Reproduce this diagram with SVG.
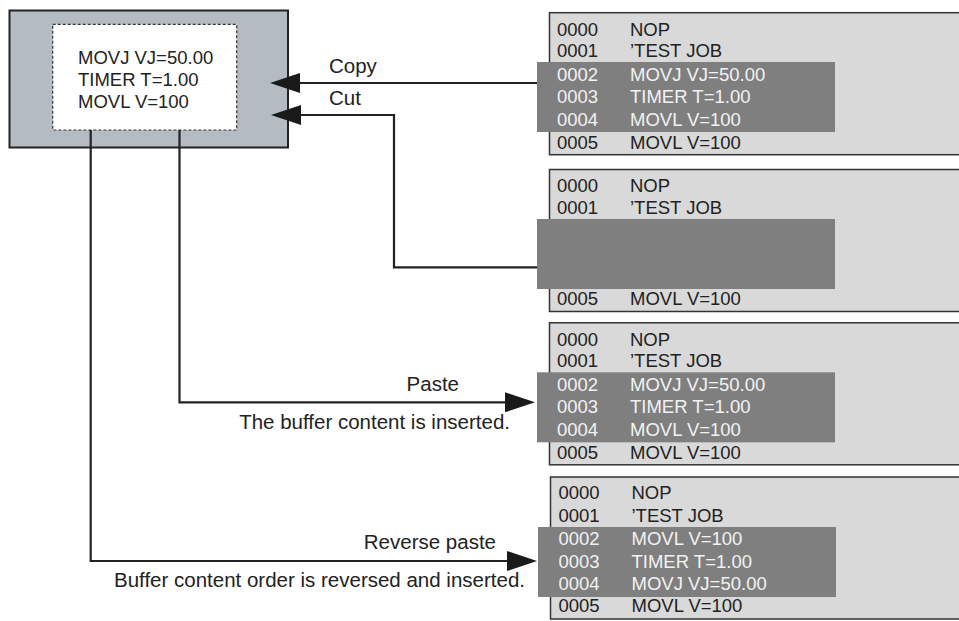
<svg xmlns="http://www.w3.org/2000/svg" width="959" height="621" viewBox="0 0 959 621">
<style>
text{font-family:"Liberation Sans",Arial,sans-serif;}
.buf{font-size:18.5px;fill:#222;}
.row{font-size:18.5px;fill:#222;}
.hl .row{fill:#f2f2f2;}
.lbl{font-size:20.5px;fill:#222;}
.panel{fill:#d9d9d9;stroke:#333;stroke-width:1.5;}
.hlr{fill:#7f7f7f;}
.con{fill:none;stroke:#222;stroke-width:2.2;}
</style>
<defs>
<marker id="ah" markerUnits="userSpaceOnUse" markerWidth="30" markerHeight="20" refX="2" refY="10" orient="auto">
<path d="M0,0 L30,10 L0,20 Z" fill="#1a1a1a"/>
</marker>
</defs>
<rect width="959" height="621" fill="#fff"/>

<g id="buffer">
<rect x="9.5" y="10.5" width="278.5" height="137" fill="#b4bbc3" stroke="#222" stroke-width="2"/>
<rect x="52.7" y="24.3" width="184" height="105.7" fill="#fff" stroke="#333" stroke-width="1.2" stroke-dasharray="3,2"/>
<text class="buf" x="78" y="63.5">MOVJ VJ=50.00</text>
<text class="buf" x="78" y="85.5">TIMER T=1.00</text>
<text class="buf" x="78" y="107.5">MOVL V=100</text>
</g>

<g id="panel-copy">
<rect class="panel" x="549.5" y="12.7" width="420" height="142"/>
<text class="row" x="557" y="35.5">0000</text><text class="row" x="630" y="35.5">NOP</text>
<text class="row" x="557" y="57">0001</text><text class="row" x="630" y="57">’TEST JOB</text>
<g class="hl">
<rect class="hlr" x="537" y="62" width="298" height="70"/>
<text class="row" x="557" y="80.5">0002</text><text class="row" x="630" y="80.5">MOVJ VJ=50.00</text>
<text class="row" x="557" y="103.3">0003</text><text class="row" x="630" y="103.3">TIMER T=1.00</text>
<text class="row" x="557" y="126.3">0004</text><text class="row" x="630" y="126.3">MOVL V=100</text>
</g>
<text class="row" x="557" y="148.5">0005</text><text class="row" x="630" y="148.5">MOVL V=100</text>
</g>

<g id="panel-cut">
<rect class="panel" x="549.5" y="169.5" width="420" height="142"/>
<text class="row" x="557" y="192.3">0000</text><text class="row" x="630" y="192.3">NOP</text>
<text class="row" x="557" y="213.8">0001</text><text class="row" x="630" y="213.8">’TEST JOB</text>
<rect class="hlr" x="537" y="219" width="298" height="70"/>
<text class="row" x="557" y="305.3">0005</text><text class="row" x="630" y="305.3">MOVL V=100</text>
</g>

<g id="panel-paste">
<rect class="panel" x="549.5" y="322.8" width="420" height="142"/>
<text class="row" x="557" y="345.6">0000</text><text class="row" x="630" y="345.6">NOP</text>
<text class="row" x="557" y="367.1">0001</text><text class="row" x="630" y="367.1">’TEST JOB</text>
<g class="hl">
<rect class="hlr" x="537" y="372.3" width="298" height="70"/>
<text class="row" x="557" y="390.6">0002</text><text class="row" x="630" y="390.6">MOVJ VJ=50.00</text>
<text class="row" x="557" y="413.4">0003</text><text class="row" x="630" y="413.4">TIMER T=1.00</text>
<text class="row" x="557" y="436.4">0004</text><text class="row" x="630" y="436.4">MOVL V=100</text>
</g>
<text class="row" x="557" y="458.6">0005</text><text class="row" x="630" y="458.6">MOVL V=100</text>
</g>

<g id="panel-reverse">
<rect class="panel" x="550.5" y="477" width="420" height="142"/>
<text class="row" x="558.5" y="499.3">0000</text><text class="row" x="631.5" y="499.3">NOP</text>
<text class="row" x="558.5" y="521.7">0001</text><text class="row" x="631.5" y="521.7">’TEST JOB</text>
<g class="hl">
<rect class="hlr" x="538" y="527" width="298" height="70"/>
<text class="row" x="558.5" y="545">0002</text><text class="row" x="631.5" y="545">MOVL V=100</text>
<text class="row" x="558.5" y="567.7">0003</text><text class="row" x="631.5" y="567.7">TIMER T=1.00</text>
<text class="row" x="558.5" y="590">0004</text><text class="row" x="631.5" y="590">MOVJ VJ=50.00</text>
</g>
<text class="row" x="558.5" y="612">0005</text><text class="row" x="631.5" y="612">MOVL V=100</text>
</g>

<g id="connectors">
<path class="con" d="M537,83 H298" marker-end="url(#ah)"/>
<path class="con" d="M537,267.3 H394 V115 H299" marker-end="url(#ah)"/>
<path class="con" d="M179.5,130 V402.3 H507" marker-end="url(#ah)"/>
<path class="con" d="M90.7,130 V561 H509" marker-end="url(#ah)"/>
</g>

<g id="labels">
<text class="lbl" x="329" y="73">Copy</text>
<text class="lbl" x="329" y="105">Cut</text>
<text class="lbl" x="459" y="391" text-anchor="end">Paste</text>
<text class="lbl" x="510" y="429" text-anchor="end">The buffer content is inserted.</text>
<text class="lbl" x="496" y="549" text-anchor="end">Reverse paste</text>
<text class="lbl" x="525" y="587" text-anchor="end">Buffer content order is reversed and inserted.</text>
</g>
</svg>
